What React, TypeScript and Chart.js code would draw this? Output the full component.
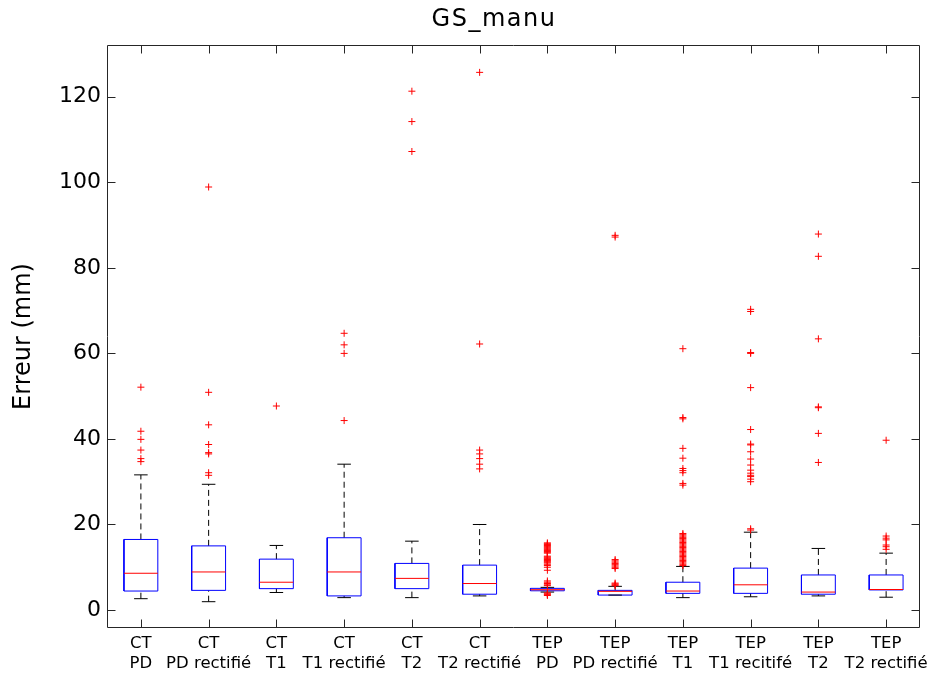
import React, { useEffect, useRef } from "react";
import { Chart, registerables } from "chart.js";

Chart.register(...registerables);

const titleText = "GS_manu";
const yTitle = "Erreur (mm)";

const categories: string[][] = [
  ["CT", "PD"],
  ["CT", "PD rectifié"],
  ["CT", "T1"],
  ["CT", "T1 rectifié"],
  ["CT", "T2"],
  ["CT", "T2 rectifié"],
  ["TEP", "PD"],
  ["TEP", "PD rectifié"],
  ["TEP", "T1"],
  ["TEP", "T1 recitifé"],
  ["TEP", "T2"],
  ["TEP", "T2 rectifié"],
];

const lowerWhisker = [2.65, 1.95, 4.1, 2.9, 2.9, 3.3, 4.2, 3.5, 2.9, 3.1, 3.3, 3.0];
const q1 = [4.44, 4.6, 5.0, 3.3, 5.0, 3.7, 4.5, 3.5, 3.9, 3.9, 3.7, 4.7];
const median = [8.6, 8.9, 6.5, 8.9, 7.4, 6.2, 4.75, 4.37, 4.44, 5.9, 4.2, 4.8];
const q3 = [16.5, 15.0, 11.9, 16.9, 10.9, 10.5, 5.07, 4.6, 6.5, 9.8, 8.2, 8.2];
const upperWhisker = [31.6, 29.4, 15.1, 34.1, 16.1, 20.0, 5.3, 5.54, 10.2, 18.2, 14.4, 13.3];

const outliers: number[][] = [
  [52.1, 41.8, 39.9, 37.4, 35.4, 34.7],
  [98.9, 50.9, 43.3, 38.7, 36.8, 36.5, 32.1, 31.5],
  [47.7],
  [64.7, 62.0, 60.0, 44.3],
  [121.3, 114.2, 107.2],
  [125.7, 62.2, 37.4, 36.5, 35.4, 34.1, 33.0],
  [15.7, 15.5, 15.3, 15.1, 14.9, 14.7, 14.5, 14.3, 14.1, 13.9, 13.7, 13.5, 13.3, 12.6, 12.4, 12.2, 12.0, 11.8, 11.6, 11.4, 11.2, 11.0, 10.7, 10.4, 10.0, 9.3, 6.8, 6.5, 6.2, 5.9, 5.7, 4.0, 3.8, 3.6, 3.4],
  [87.6, 87.2, 11.8, 11.5, 11.2, 10.9, 10.6, 10.3, 10.0, 9.7, 6.3, 6.1, 5.9, 5.7],
  [61.1, 45.0, 44.7, 37.8, 35.5, 33.1, 32.6, 32.1, 29.6, 29.2, 17.9, 17.6, 17.3, 17.0, 16.7, 16.4, 16.1, 15.8, 15.5, 15.2, 14.9, 14.6, 14.3, 14.0, 13.7, 13.4, 13.1, 12.8, 12.5, 12.2, 11.9, 11.6, 11.3, 11.0, 10.7, 10.4],
  [70.3, 69.8, 60.2, 60.0, 52.0, 42.2, 38.8, 38.6, 37.0, 35.3, 33.9, 32.7, 32.0, 31.5, 31.2, 30.6, 30.0, 19.0, 18.7],
  [87.9, 82.7, 63.4, 47.5, 47.3, 41.3, 34.5],
  [39.7, 17.3, 16.8, 16.4, 15.2, 14.8, 14.2],
];

const yTicks = [0, 20, 40, 60, 80, 100, 120];
const yMin = -4.2;
const yMax = 132.1;

const BOX_HALF = 0.25;
const CAP_HALF = 0.1;
const FONT = "'DejaVu Sans', sans-serif";

type Pt = { x: number; y: number | null };

function boxPoints(): Pt[] {
  const pts: Pt[] = [];
  categories.forEach((_, i) => {
    const x = i + 1;
    pts.push(
      { x: x - BOX_HALF, y: q1[i] },
      { x: x + BOX_HALF, y: q1[i] },
      { x: x + BOX_HALF, y: q3[i] },
      { x: x - BOX_HALF, y: q3[i] },
      { x: x - BOX_HALF, y: q1[i] },
      { x, y: null }
    );
  });
  return pts;
}

function medianPoints(): Pt[] {
  const pts: Pt[] = [];
  categories.forEach((_, i) => {
    const x = i + 1;
    pts.push({ x: x - BOX_HALF, y: median[i] }, { x: x + BOX_HALF, y: median[i] }, { x, y: null });
  });
  return pts;
}

function capPoints(): Pt[] {
  const pts: Pt[] = [];
  categories.forEach((_, i) => {
    const x = i + 1;
    pts.push(
      { x: x - CAP_HALF, y: upperWhisker[i] },
      { x: x + CAP_HALF, y: upperWhisker[i] },
      { x, y: null },
      { x: x - CAP_HALF, y: lowerWhisker[i] },
      { x: x + CAP_HALF, y: lowerWhisker[i] },
      { x: x + 0.2, y: null }
    );
  });
  return pts;
}

function whiskerPoints(): Pt[] {
  const pts: Pt[] = [];
  categories.forEach((_, i) => {
    const x = i + 1;
    pts.push(
      { x, y: q3[i] },
      { x, y: upperWhisker[i] },
      { x: x + 0.01, y: null },
      { x, y: lowerWhisker[i] },
      { x, y: q1[i] },
      { x: x + 0.02, y: null }
    );
  });
  return pts;
}

function outlierPoints(): Pt[] {
  const pts: Pt[] = [];
  outliers.forEach((arr, i) => arr.forEach((v) => pts.push({ x: i + 1, y: v })));
  return pts;
}

const framePlugin = {
  id: "matlabFrame",
  afterDraw(chart: any) {
    const { ctx, chartArea, scales } = chart;
    const { left, right, top, bottom } = chartArea;
    const L = Math.round(left) + 0.5;
    const R = Math.round(right) - 0.5;
    const T = Math.round(top) + 0.5;
    const B = Math.round(bottom) - 0.5;
    ctx.save();
    ctx.strokeStyle = "#262626";
    ctx.lineWidth = 1;
    ctx.beginPath();
    ctx.moveTo(L, T);
    ctx.lineTo(R, T);
    ctx.lineTo(R, B);
    ctx.lineTo(L, B);
    ctx.closePath();
    ctx.stroke();
    const tl = 8;
    ctx.beginPath();
    yTicks.forEach((v) => {
      const py = Math.round(scales.y.getPixelForValue(v)) + 0.5;
      ctx.moveTo(L, py);
      ctx.lineTo(L + tl, py);
      ctx.moveTo(R, py);
      ctx.lineTo(R - tl, py);
    });
    categories.forEach((_, i) => {
      const px = Math.round(scales.x.getPixelForValue(i + 1)) + 0.5;
      ctx.moveTo(px, B);
      ctx.lineTo(px, B - tl);
      ctx.moveTo(px, T);
      ctx.lineTo(px, T + tl);
    });
    ctx.stroke();

    // title
    ctx.fillStyle = "#000000";
    ctx.font = `normal 24px ${FONT}`;
    try {
      (ctx as any).letterSpacing = "1.5px";
    } catch (e) {}
    ctx.textAlign = "center";
    ctx.textBaseline = "middle";
    ctx.fillText(titleText, 494, 20);
    ctx.restore();
  },
};

export default function App() {
  const ref = useRef<HTMLCanvasElement | null>(null);

  useEffect(() => {
    if (!ref.current) return;
    const chart = new Chart(ref.current, {
      type: "scatter",
      data: {
        datasets: [
          {
            label: "outliers",
            data: outlierPoints() as any,
            showLine: false,
            pointStyle: "cross",
            pointRadius: 3.5,
            pointBorderColor: "#ff0000",
            pointBorderWidth: 1,
            pointBackgroundColor: "#ff0000",
            order: 0,
          },
          {
            label: "caps",
            data: capPoints() as any,
            showLine: true,
            spanGaps: false,
            borderColor: "#000000",
            borderWidth: 1,
            pointRadius: 0,
            order: 1,
          },
          {
            label: "medians",
            data: medianPoints() as any,
            showLine: true,
            spanGaps: false,
            borderColor: "#ff0000",
            borderWidth: 1,
            pointRadius: 0,
            order: 2,
          },
          {
            label: "boxes",
            data: boxPoints() as any,
            showLine: true,
            spanGaps: false,
            borderColor: "#0000ff",
            borderWidth: 1,
            pointRadius: 0,
            order: 3,
          },
          {
            label: "whiskers",
            data: whiskerPoints() as any,
            showLine: true,
            spanGaps: false,
            borderColor: "#000000",
            borderWidth: 1,
            borderDash: [6, 4],
            pointRadius: 0,
            order: 4,
          },
        ],
      },
      options: {
        animation: false,
        responsive: false,
        events: [],
        layout: { padding: { top: 45, right: 8, bottom: 0, left: 0 } },
        plugins: {
          legend: { display: false },
          tooltip: { enabled: false },
          title: { display: false },
        },
        scales: {
          x: {
            type: "linear",
            min: 0.5,
            max: 12.5,
            grid: { display: false, drawTicks: false },
            border: { display: false },
            afterBuildTicks: (scale: any) => {
              scale.ticks = categories.map((_, i) => ({ value: i + 1 }));
            },
            afterFit: (scale: any) => {
              scale.height = 47;
            },
            ticks: {
              autoSkip: false,
              maxRotation: 0,
              minRotation: 0,
              padding: 5,
              color: "#000000",
              font: { family: FONT, size: 16.5, lineHeight: 1.26 },
              callback: (v: any) => {
                const idx = Math.round(Number(v)) - 1;
                return categories[idx] ?? "";
              },
            },
          },
          y: {
            type: "linear",
            min: yMin,
            max: yMax,
            grid: { display: false, drawTicks: false },
            border: { display: false },
            afterBuildTicks: (scale: any) => {
              scale.ticks = yTicks.map((v) => ({ value: v }));
            },
            afterFit: (scale: any) => {
              scale.width = 107;
            },
            title: {
              display: true,
              text: yTitle,
              color: "#000000",
              font: { family: FONT, size: 24, weight: "normal", lineHeight: 1.2 },
              padding: { top: 9, bottom: 0 },
            },
            ticks: {
              padding: 6,
              color: "#000000",
              font: { family: FONT, size: 22 },
              callback: (v: any) => String(v),
            },
          },
        },
      },
      plugins: [framePlugin],
    });
    return () => chart.destroy();
  }, []);

  return (
    <div style={{ position: "absolute", left: 0, top: 0, width: 933, height: 675, background: "#ffffff" }}>
      <canvas ref={ref} width={933} height={675} style={{ display: "block" }} />
    </div>
  );
}
